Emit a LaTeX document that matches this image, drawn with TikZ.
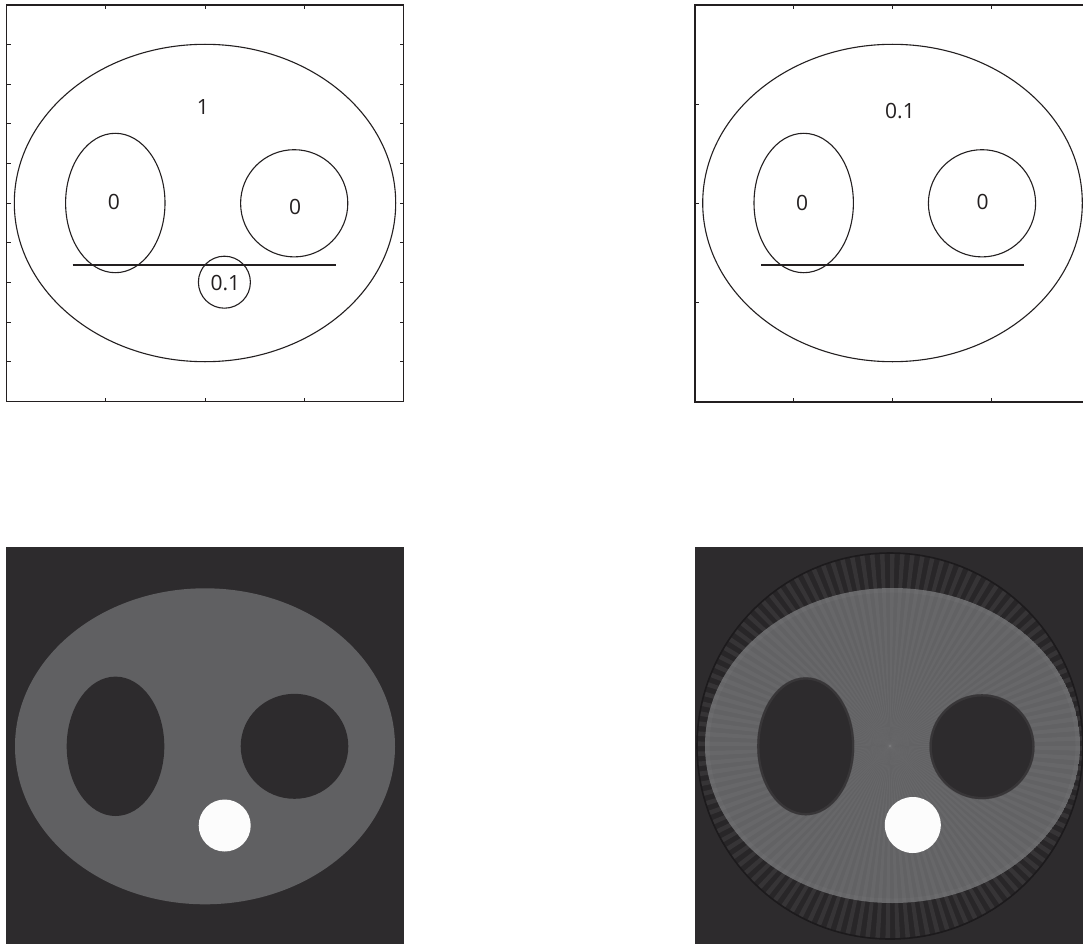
\documentclass[tikz,border=0pt]{standalone}
\usepackage{fontspec}
\setmainfont{Open Sans}
\definecolor{bgdark}{RGB}{45,43,45}
\definecolor{phgray}{RGB}{96,96,98}
\definecolor{recgray}{RGB}{98,98,100}
\definecolor{ringcol}{RGB}{40,38,40}
\definecolor{ringstripe}{RGB}{54,52,54}
\definecolor{edgedark}{RGB}{28,26,28}
\definecolor{phwhite}{RGB}{252,252,252}
\definecolor{axcol}{RGB}{35,31,32}
\begin{document}
\begin{tikzpicture}[x=1pt,y=-1pt,
  frame/.style={draw=axcol,line width=1.8pt},
  tickmark/.style={draw=axcol,line width=0.9pt},
  contour/.style={draw=axcol,line width=1.1pt},
  lbl/.style={font=\fontsize{21}{25}\selectfont,text=axcol,inner sep=0pt}]
\useasboundingbox (0,0) rectangle (1083,944);
\clip (0,0) rectangle (1083,944);
\fill[white] (0,0) rectangle (1083,944);

% ---------------- top-left: phantom definition ----------------
\draw[frame] (6.5,5) rectangle (403.5,401.5);
\foreach \k in {1,...,9}{
  \draw[tickmark] (6.5,5+39.65*\k) -- ++(4,0);
  \draw[tickmark] (403.5,5+39.65*\k) -- ++(-4,0);
}
\foreach \k in {1,2,3}{
  \draw[tickmark] (6.5+99.25*\k,5) -- ++(0,4);
  \draw[tickmark] (6.5+99.25*\k,401.5) -- ++(0,-4);
}
\draw[contour] (205,203) ellipse [x radius=190.7, y radius=158.7];
\draw[contour] (115.3,203) ellipse [x radius=49.7, y radius=69.7];
\draw[contour] (294.2,203.3) circle [radius=53.6];
\draw[contour] (224.4,282.2) circle [radius=26];
\coordinate (la) at (72.7,265);
\coordinate (lb) at (336,265);
\draw[contour] (la) -- (lb);
\node[lbl] (t1) at (203,107) {1};
\node[lbl] (t2) at (114,202) {0};
\node[lbl] (t3) at (295,206.5) {0};
\node[lbl] (t4) at (225.3,283.3) {0.1};

% ---------------- top-right ----------------
\draw[frame] (695,5) rectangle (1090,401.7);
\foreach \y in {104,203.3,302.7}{
  \draw[tickmark] (695,\y) -- ++(4,0);
}
\foreach \x in {793.8,892.6,991.4}{
  \draw[tickmark] (\x,5) -- ++(0,4);
  \draw[tickmark] (\x,401.7) -- ++(0,-4);
}
\draw[contour] (892.5,203) ellipse [x radius=189.8, y radius=158.7];
\draw[contour] (803.7,203) ellipse [x radius=49.7, y radius=69.7];
\draw[contour] (982,203.3) circle [radius=53.6];
\coordinate (ra) at (761,265);
\coordinate (rb) at (1024.3,265);
\draw[contour] (ra) -- (rb);
\node[lbl] (u1) at (900,111) {0.1};
\node[lbl] (u2) at (802,203.3) {0};
\node[lbl] (u3) at (982.7,202.3) {0};

% ---------------- bottom-left: phantom image ----------------
\fill[bgdark] (6,547) rectangle (404,944);
\fill[phgray] (205,746.3) ellipse [x radius=190, y radius=158];
\fill[bgdark] (115.5,746.3) ellipse [x radius=48.8, y radius=69.7];
\fill[bgdark] (294.5,746.3) ellipse [x radius=53.8, y radius=52.5];
\fill[phwhite] (224.7,825.5) circle [radius=26];

% ---------------- bottom-right: reconstruction ----------------
\fill[bgdark] (695,547) rectangle (1083,944);
\begin{scope}
  \clip (890,746) circle [radius=193];
  \fill[ringcol] (890,746) circle [radius=193];
  \foreach \a in {0,3,...,357}{
    \fill[ringstripe] (890,746) -- ++(\a:210) -- ++(\a+90:5) -- cycle;
  }
\end{scope}
\draw[edgedark,line width=1.6pt] (890,746) circle [radius=193];
\begin{scope}
  \clip (892.5,745.5) ellipse [x radius=187.5, y radius=157.5];
  \fill[recgray] (892.5,745.5) ellipse [x radius=187.5, y radius=157.5];
  \foreach \a in {0,3,...,357}{
    \fill[white,opacity=0.035] (890,746) -- ++(\a:220) -- ++(\a+90:5.5) -- cycle;
  }
  \draw[white,opacity=0.03,line width=6pt] (892.5,745.5) ellipse [x radius=186, y radius=156];
\end{scope}
\fill[bgdark] (805.7,746.3) ellipse [x radius=48.5, y radius=69];
\draw[bgdark!88!white,opacity=0.45,line width=2.5pt] (805.7,746.3) ellipse [x radius=47.5, y radius=68];
\fill[bgdark] (982,746.7) circle [radius=52.5];
\draw[bgdark!88!white,opacity=0.45,line width=2.5pt] (982,746.7) circle [radius=51.5];
\fill[phwhite] (912.8,825) circle [radius=28];
\end{tikzpicture}
\end{document}
